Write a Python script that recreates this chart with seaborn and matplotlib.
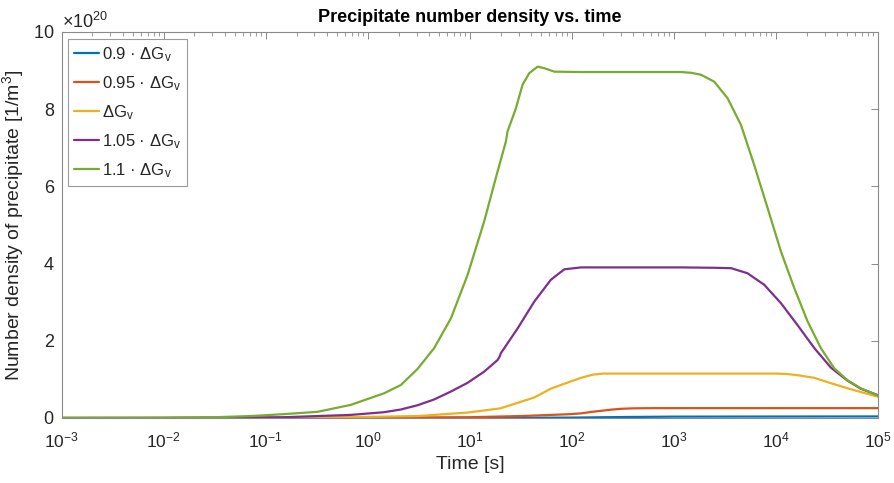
import numpy as np
import pandas as pd
import matplotlib
matplotlib.use("Agg")
import matplotlib.pyplot as plt
import matplotlib.ticker as mticker
import seaborn as sns

# Precipitate number density (in units of 1e20 1/m^3) against log10(t [s])
series_labels = [
    "0.9 · ΔG$_\\mathregular{v}$",
    "0.95 · ΔG$_\\mathregular{v}$",
    "ΔG$_\\mathregular{v}$",
    "1.05 · ΔG$_\\mathregular{v}$",
    "1.1 · ΔG$_\\mathregular{v}$",
]
series_colors = ["#0072BD", "#D95319", "#EDB120", "#7E2F8E", "#77AC30"]
decade_ticks = [1e-3, 1e-2, 1e-1, 1e0, 1e1, 1e2, 1e3, 1e4, 1e5]

log_t_09 = [-3, 1, 2, 2.5, 3, 5]
n_09 = [0.0, 0.002, 0.01, 0.025, 0.035, 0.04]

log_t_095 = [-3, 0, 1, 1.5, 1.8, 1.99, 2.09, 2.2, 2.3, 2.4, 2.5, 2.6, 2.8, 5]
n_095 = [0.0, 0.005, 0.02, 0.05, 0.08, 0.10, 0.12, 0.16, 0.19, 0.22, 0.24,
         0.25, 0.255, 0.255]

log_t_100 = [-3, -1, -0.167, 0.487, 0.977, 1.30, 1.63, 1.794, 1.96, 2.09,
             2.2, 2.3, 2.5, 3.0, 4.0, 4.1, 4.21, 4.376, 4.54, 4.70, 4.85, 5.0]
n_100 = [0.0, 0.005, 0.02, 0.05, 0.14, 0.25, 0.53, 0.76, 0.92, 1.04,
         1.12, 1.15, 1.15, 1.15, 1.15, 1.14, 1.11, 1.04, 0.90, 0.77, 0.66, 0.55]

log_t_105 = [-3, -2, -1.5, -0.82, -0.167, 0.16, 0.324, 0.487, 0.65, 0.81,
             0.977, 1.14, 1.271, 1.29, 1.304, 1.468, 1.63, 1.794, 1.925,
             2.09, 2.5, 3.07, 3.4, 3.56, 3.72, 3.885, 4.05, 4.21, 4.376,
             4.54, 4.70, 4.83, 5.0]
n_105 = [0.0, 0.0, 0.005, 0.02, 0.08, 0.15, 0.22, 0.33, 0.48, 0.68,
         0.91, 1.2, 1.50, 1.58, 1.68, 2.32, 3.01, 3.58, 3.85,
         3.90, 3.90, 3.90, 3.89, 3.88, 3.75, 3.45, 2.97, 2.41, 1.81,
         1.30, 0.97, 0.76, 0.59]

log_t_110 = [-3, -2, -1.5, -1.147, -0.82, -0.493, -0.167, 0.16, 0.324, 0.487,
             0.65, 0.814, 0.977, 1.14, 1.271, 1.353, 1.369, 1.451, 1.516,
             1.582, 1.664, 1.729, 1.827, 2.09, 2.5, 3.07, 3.17, 3.265, 3.395,
             3.526, 3.657, 3.787, 3.919, 4.049, 4.18, 4.31, 4.44, 4.57, 4.70,
             4.83, 5.0]
n_110 = [0.0, 0.005, 0.02, 0.05, 0.10, 0.16, 0.34, 0.64, 0.855, 1.27,
         1.81, 2.58, 3.70, 5.09, 6.38, 7.16, 7.42, 8.02, 8.63,
         8.93, 9.10, 9.06, 8.97, 8.96, 8.96, 8.96, 8.94, 8.89, 8.71,
         8.28, 7.59, 6.55, 5.43, 4.31, 3.36, 2.50, 1.81, 1.29, 0.98,
         0.77, 0.58]

all_log_t = [log_t_09, log_t_095, log_t_100, log_t_105, log_t_110]
all_n = [n_09, n_095, n_100, n_105, n_110]

frames = []
for lab, lt, nv in zip(series_labels, all_log_t, all_n):
    frames.append(pd.DataFrame({
        "time": 10.0 ** np.asarray(lt, dtype=float),
        "density": np.asarray(nv, dtype=float) * 1e20,
        "case": lab,
    }))
df = pd.concat(frames, ignore_index=True)

sns.set_style("white")
plt.rcParams["font.family"] = ["Liberation Sans", "DejaVu Sans"]
plt.rcParams["mathtext.fontset"] = "custom"
plt.rcParams["mathtext.rm"] = "Liberation Sans"
plt.rcParams["mathtext.it"] = "Liberation Sans:italic"
plt.rcParams["mathtext.bf"] = "Liberation Sans:bold"

fig = plt.figure(figsize=(8.95, 4.83), dpi=100)
ax = fig.add_axes([0.069, 0.1346, 0.912, 0.7994])

sns.lineplot(data=df, x="time", y="density", hue="case",
             hue_order=series_labels, palette=series_colors,
             estimator=None, sort=False, linewidth=1.6, ax=ax)

ax.set_xscale("log")
ax.set_xlim(1e-3, 1e5)
ax.set_ylim(0, 10e20)
ax.set_xticks(decade_ticks)
ax.xaxis.set_minor_locator(mticker.LogLocator(base=10, subs=np.arange(2, 10), numticks=20))
ax.xaxis.set_minor_formatter(mticker.NullFormatter())
ax.yaxis.set_major_locator(mticker.MultipleLocator(2e20))
fmt = mticker.ScalarFormatter(useMathText=True)
fmt.set_powerlimits((20, 20))
ax.yaxis.set_major_formatter(fmt)
ax.yaxis.get_offset_text().set_fontsize(13)
ax.yaxis.get_offset_text().set_color("#262626")

axis_gray = "#8a8a8a"
for sp in ax.spines.values():
    sp.set_visible(True)
    sp.set_color(axis_gray)
    sp.set_linewidth(0.8)
ax.tick_params(which="both", direction="in", top=True, right=True,
               color=axis_gray, labelcolor="#262626")
ax.tick_params(which="major", length=5, width=0.7)
ax.tick_params(which="minor", length=3, width=0.6)
ax.tick_params(axis="x", which="major", labelsize=12.5, pad=9)
ax.tick_params(axis="y", which="major", labelsize=13, pad=5)

ax.set_xlabel("Time [s]", fontsize=14, color="#262626", labelpad=4)
ax.set_ylabel("Number density of precipitate [1/m$^\\mathregular{3}$]",
              fontsize=14, color="#262626", labelpad=5)
ax.set_title("Precipitate number density vs. time", fontsize=13,
             fontweight="bold", color="black", pad=7)

leg = ax.legend(loc="upper left", bbox_to_anchor=(0.004, 0.99), fontsize=12,
                frameon=True, fancybox=False, framealpha=1, edgecolor="#9a9a9a",
                handlelength=1.5, handletextpad=0.15, labelspacing=0.62,
                borderpad=0.35, borderaxespad=0.2)
leg.get_frame().set_linewidth(0.8)
for line in leg.get_lines():
    line.set_linewidth(1.6)

fig.savefig("out.png", dpi=100)
